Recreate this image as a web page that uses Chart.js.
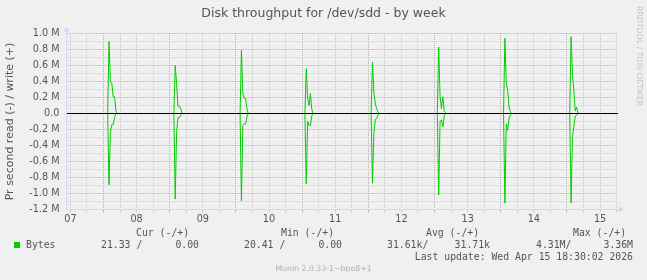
<!DOCTYPE html>
<html>
<head>
<meta charset="utf-8">
<script src="https://cdn.jsdelivr.net/npm/chart.js@4.4.1/dist/chart.umd.min.js"></script>
<style>
html, body { margin: 0; padding: 0; background: #F0F0F0; }
#wrap { position: relative; width: 647px; height: 280px; overflow: hidden; }
#wrap canvas { position: absolute; left: 0; top: 0; }
.txt { position: absolute; white-space: pre; color: #555; }
.mono { font-family: "DejaVu Sans Mono", monospace; font-size: 9.8px; line-height: 12px; }
#title { left: 0; width: 647px; top: 5px; text-align: center; font-family: "DejaVu Sans", sans-serif; font-size: 12.5px; line-height: 15px; }
#rrd { left: 644px; top: 6px; transform: rotate(90deg); transform-origin: 0 0; font-family: "DejaVu Sans", sans-serif; font-size: 7.8px; line-height: 9px; color: #c4c4c4; }
#munin { left: 0; width: 647px; top: 264px; text-align: center; font-family: "DejaVu Sans", sans-serif; font-size: 7.8px; line-height: 10px; color: #b0b0b0; }
#swatch { position: absolute; left: 14px; top: 242px; width: 6px; height: 6px; background: #00CC00; }
</style>
</head>
<body>
<div id="wrap">
  <canvas id="chart_disk" width="647" height="280"></canvas>
  <div id="title" class="txt">Disk throughput for /dev/sdd - by week</div>
  <div id="rrd" class="txt">RRDTOOL / TOBI OETIKER</div>
  <div id="swatch"></div>
  <div id="legend"></div>
  <div id="munin" class="txt">Munin 2.0.33-1~bpo8+1</div>
</div>
<script>
// DATA
// x axis is in days of the month, the graph ends at the last update (15th 18:30)
var xStart = 7.441;
var xEnd = 15 + 18.5 / 24;
var dayLabels = ['07', '08', '09', '10', '11', '12', '13', '14', '15'];

// one burst every night, samples every 30 min
var spikeDays = [8, 9, 10, 11, 12, 13, 14, 15];
var spikeHour = [2.0, 2.0, 2.0, 1.5, 1.5, 1.5, 1.5, 1.5];

// write (+), in M bytes/s
var writeM = [
  [0.90, 0.40, 0.38, 0.21, 0.21, 0.03],
  [0.60, 0.37, 0.09, 0.09, 0.06],
  [0.79, 0.25, 0.19, 0.19, 0.06],
  [0.56, 0.19, 0.10, 0.25, 0.05],
  [0.64, 0.27, 0.13, 0.06, 0.02],
  [0.83, 0.21, 0.06, 0.21, 0.04],
  [0.94, 0.38, 0.29, 0.08, 0.02],
  [0.96, 0.48, 0.29, 0.03, 0.08]
];
// read (-), in M bytes/s
var readM = [
  [0.89, 0.24, 0.14, 0.14, 0.05],
  [1.07, 0.23, 0.05, 0.05, 0.02],
  [1.09, 0.15, 0.13, 0.13, 0.04],
  [0.88, 0.10, 0.15, 0.15, 0.03],
  [0.87, 0.25, 0.08, 0.06, 0.02],
  [1.02, 0.10, 0.08, 0.17, 0.03],
  [1.12, 0.13, 0.21, 0.06, 0.02],
  [1.12, 0.29, 0.17, 0.03, 0.02]
];

// legend table
var legendHeads = ['Cur (-/+)', 'Min (-/+)', 'Avg (-/+)', 'Max (-/+)'];
var legendRead = ['21.33 /', '20.41 /', '31.61k/', '4.31M/'];
var legendWrite = ['0.00', '0.00', '31.71k', '3.36M'];
var lastUpdate = 'Last update: Wed Apr 15 18:30:02 2026';

var green = '#00CC00';
var step = 0.5 / 24;

function buildSeries(vals, sign) {
    var pts = [{x: xStart, y: 0}];
    spikeDays.forEach(function(d, i) {
        var t0 = d + spikeHour[i] / 24;
        pts.push({x: t0 - step, y: 0});
        vals[i].forEach(function(v, k) {
            pts.push({x: t0 + k * step, y: sign * v * 1e6});
        });
        pts.push({x: t0 + vals[i].length * step, y: 0});
    });
    pts.push({x: xEnd, y: 0});
    return pts;
}

// LEGEND
var headX = [136, 281, 426, 573];
var readX = [101, 244, 387, 536];
var writeR = [199, 342, 490, 633];
var html = '<div class="txt mono" style="left:26px;top:239px">Bytes</div>';
for (var i = 0; i < 4; i++) {
    html += '<div class="txt mono" style="left:' + headX[i] + 'px;top:227px">' + legendHeads[i] + '</div>';
    html += '<div class="txt mono" style="left:' + readX[i] + 'px;top:239px">' + legendRead[i] + '</div>';
    html += '<div class="txt mono" style="right:' + (647 - writeR[i]) + 'px;top:239px">' + legendWrite[i] + '</div>';
}
html += '<div class="txt mono" style="right:14px;top:251px">' + lastUpdate + '</div>';
document.getElementById('legend').innerHTML = html;

// GRID helpers
var gridGrey = 'rgba(191,191,191,0.75)';
var gridRed = 'rgba(230,128,128,0.75)';
var axisCol = '#CFD6F8';

function isWhole(v) {
    return Math.abs(v - Math.round(v)) < 1e-6;
}

// black zero line over the data, axes with arrows
var rrdAxes = {
    id: 'rrdAxes',
    afterDatasetsDraw: function(chart) {
        var ctx = chart.ctx;
        var a = chart.chartArea;
        var y0 = chart.scales.y.getPixelForValue(0);
        ctx.save();
        ctx.strokeStyle = '#000000';
        ctx.lineWidth = 1;
        ctx.beginPath();
        ctx.moveTo(a.left, y0);
        ctx.lineTo(a.right, y0);
        ctx.stroke();
        ctx.restore();
    },
    afterDraw: function(chart) {
        var ctx = chart.ctx;
        var a = chart.chartArea;
        var xl = a.left;
        var yb = a.bottom;
        ctx.save();
        ctx.strokeStyle = axisCol;
        ctx.fillStyle = axisCol;
        ctx.lineWidth = 1;
        ctx.beginPath();
        ctx.moveTo(xl, a.bottom);
        ctx.lineTo(xl, a.top - 4);
        ctx.moveTo(a.left, yb);
        ctx.lineTo(a.right + 2, yb);
        ctx.stroke();
        ctx.beginPath();
        ctx.moveTo(xl, a.top - 7);
        ctx.lineTo(xl - 3, a.top - 2);
        ctx.lineTo(xl + 3, a.top - 2);
        ctx.closePath();
        ctx.fill();
        ctx.beginPath();
        ctx.moveTo(a.right + 6, yb);
        ctx.lineTo(a.right + 1, yb - 3);
        ctx.lineTo(a.right + 1, yb + 3);
        ctx.closePath();
        ctx.fill();
        ctx.restore();
    }
};

// CHART
var ctx_disk = document.getElementById('chart_disk');

var chart_disk = new Chart(ctx_disk, {
    type: 'line',
    data: {
        datasets: [{
            label: 'Bytes write',
            data: buildSeries(writeM, 1),
            borderColor: green,
            borderWidth: 1,
            pointRadius: 0,
            tension: 0
        }, {
            label: 'Bytes read',
            data: buildSeries(readM, -1),
            borderColor: green,
            borderWidth: 1,
            pointRadius: 0,
            tension: 0
        }]
    },
    options: {
        responsive: false,
        animation: false,
        devicePixelRatio: 1,
        layout: {
            padding: {top: 33.5, right: 29, bottom: 50.5, left: 0}
        },
        scales: {
            x: {
                type: 'linear',
                min: xStart,
                max: xEnd,
                afterBuildTicks: function(scale) {
                    var t = [];
                    for (var q = Math.ceil(xStart * 4); q / 4 <= xEnd; q++) {
                        t.push({value: q / 4});
                    }
                    scale.ticks = t;
                },
                afterFit: function(scale) {
                    scale.height = 20;
                },
                grid: {
                    color: function(c) {
                        return c.tick && isWhole(c.tick.value) ? gridRed : gridGrey;
                    },
                    tickColor: function(c) {
                        return c.tick && isWhole(c.tick.value) ? gridRed : gridGrey;
                    },
                    tickLength: 3,
                    lineWidth: 1
                },
                border: {
                    display: false,
                    dash: [1, 1],
                    dashOffset: 0.5
                },
                ticks: {
                    autoSkip: false,
                    maxRotation: 0,
                    padding: 1,
                    color: '#555',
                    font: {family: 'DejaVu Sans', size: 9.7},
                    callback: function(value) {
                        var frac = value - Math.floor(value);
                        if (Math.abs(frac - 0.5) < 1e-6) {
                            return dayLabels[Math.floor(value) - 7];
                        }
                        return '';
                    }
                }
            },
            y: {
                min: -1.2e6,
                max: 1.0e6,
                afterFit: function(scale) {
                    scale.width = 66.5;
                },
                grid: {
                    color: function(c) {
                        if (!c.tick) return gridGrey;
                        var k = Math.round(c.tick.value / 1e5);
                        return k % 2 === 0 ? gridRed : gridGrey;
                    },
                    drawTicks: false,
                    lineWidth: 1
                },
                border: {
                    display: false,
                    dash: [1, 1],
                    dashOffset: 0.5
                },
                title: {
                    display: true,
                    text: 'Pr second read (-) / write (+)',
                    color: '#555',
                    font: {family: 'DejaVu Sans', size: 11},
                    padding: {top: 4, bottom: 0}
                },
                ticks: {
                    stepSize: 1e5,
                    autoSkip: false,
                    padding: 7,
                    color: '#555',
                    font: {family: 'DejaVu Sans', size: 9.7},
                    callback: function(value) {
                        var k = Math.round(value / 1e5);
                        if (k % 2 !== 0) return '';
                        if (k === 0) return '0.0';
                        return (k / 10).toFixed(1) + ' M';
                    }
                }
            }
        },
        plugins: {
            legend: {display: false},
            tooltip: {enabled: false},
            title: {display: false}
        }
    },
    plugins: [rrdAxes]
});
</script>
</body>
</html>
